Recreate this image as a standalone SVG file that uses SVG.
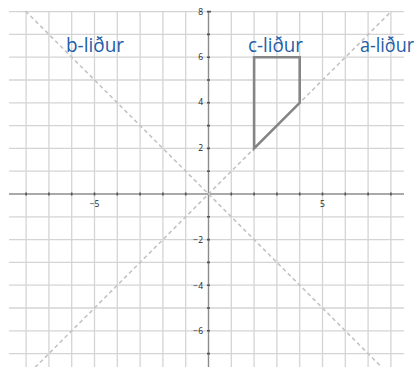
<svg xmlns="http://www.w3.org/2000/svg" width="419" height="367" viewBox="0 0 419 367">
<style>
.grid line{stroke:#d4d4d4;stroke-width:1.3}
.axis{stroke:#8c8c8c;stroke-width:1.4}
.tick{stroke:#555;stroke-width:1.6}
.num{font-family:"Open Sans","DejaVu Sans",sans-serif;font-size:8.5px;fill:#222}
.lbl{font-family:"Open Sans","Noto Sans",sans-serif;font-size:20px;fill:#1f5ea8}
.dash{stroke:#c4c4c4;stroke-width:1.6;stroke-dasharray:4 3;fill:none}
</style>
<rect width="419" height="367" fill="#fff"/>
<g id="grid" class="grid">
<line x1="26.1" y1="11" x2="26.1" y2="367"/>
<line x1="48.9" y1="11" x2="48.9" y2="367"/>
<line x1="71.7" y1="11" x2="71.7" y2="367"/>
<line x1="94.5" y1="11" x2="94.5" y2="367"/>
<line x1="117.3" y1="11" x2="117.3" y2="367"/>
<line x1="140.1" y1="11" x2="140.1" y2="367"/>
<line x1="162.9" y1="11" x2="162.9" y2="367"/>
<line x1="185.7" y1="11" x2="185.7" y2="367"/>
<line x1="231.3" y1="11" x2="231.3" y2="367"/>
<line x1="254.1" y1="11" x2="254.1" y2="367"/>
<line x1="276.9" y1="11" x2="276.9" y2="367"/>
<line x1="299.7" y1="11" x2="299.7" y2="367"/>
<line x1="322.5" y1="11" x2="322.5" y2="367"/>
<line x1="345.3" y1="11" x2="345.3" y2="367"/>
<line x1="368.1" y1="11" x2="368.1" y2="367"/>
<line x1="390.9" y1="11" x2="390.9" y2="367"/>
<line x1="9" y1="11.6" x2="404" y2="11.6"/>
<line x1="9" y1="34.4" x2="404" y2="34.4"/>
<line x1="9" y1="57.2" x2="404" y2="57.2"/>
<line x1="9" y1="80" x2="404" y2="80"/>
<line x1="9" y1="102.8" x2="404" y2="102.8"/>
<line x1="9" y1="125.6" x2="404" y2="125.6"/>
<line x1="9" y1="148.4" x2="404" y2="148.4"/>
<line x1="9" y1="171.2" x2="404" y2="171.2"/>
<line x1="9" y1="216.8" x2="404" y2="216.8"/>
<line x1="9" y1="239.6" x2="404" y2="239.6"/>
<line x1="9" y1="262.4" x2="404" y2="262.4"/>
<line x1="9" y1="285.2" x2="404" y2="285.2"/>
<line x1="9" y1="308" x2="404" y2="308"/>
<line x1="9" y1="330.8" x2="404" y2="330.8"/>
<line x1="9" y1="353.6" x2="404" y2="353.6"/>
</g>
<g id="axes">
<line class="axis" x1="9" y1="194" x2="404" y2="194"/>
<line class="axis" x1="208.5" y1="11" x2="208.5" y2="367"/>
<path class="tick" d="M26.1 192.5v3M48.9 192.5v3M71.7 192.5v3M94.5 192.5v3M117.3 192.5v3M140.1 192.5v3M162.9 192.5v3M185.7 192.5v3M231.3 192.5v3M254.1 192.5v3M276.9 192.5v3M299.7 192.5v3M322.5 192.5v3M345.3 192.5v3M368.1 192.5v3M390.9 192.5v3"/>
<path class="tick" d="M207 11.6h4M207 34.4h3M207 57.2h3M207 80h3M207 102.8h3M207 125.6h3M207 148.4h3M207 171.2h3M207 216.8h3M207 239.6h3M207 262.4h3M207 285.2h3M207 308h3M207 330.8h3M207 353.6h3"/>
<text class="num" x="94.5" y="207" text-anchor="middle">−5</text>
<text class="num" x="322.5" y="207" text-anchor="middle">5</text>
<g text-anchor="end">
<text class="num" x="203" y="14.5">8</text>
<text class="num" x="203" y="59.5">6</text>
<text class="num" x="203" y="104.5">4</text>
<text class="num" x="203" y="150.5">2</text>
<text class="num" x="203" y="242.5">−2</text>
<text class="num" x="203" y="289">−4</text>
<text class="num" x="203" y="334">−6</text>
</g>
</g>
<g id="connectors">
<line id="line-a" class="dash" x1="35" y1="367.5" x2="391.6" y2="11"/>
<line id="line-b" class="dash" x1="25.5" y1="11" x2="382" y2="367.5"/>
</g>
<g id="shape-c">
<polygon points="254.1,148.4 254.1,57.2 299.7,57.2 299.7,102.8" fill="none" stroke="#858585" stroke-width="2.6" stroke-linejoin="miter"/>
</g>
<g id="label-b"><text class="lbl" x="66" y="52" textLength="58" lengthAdjust="spacingAndGlyphs">b-liður</text></g>
<g id="label-c"><text class="lbl" x="248" y="52" textLength="55" lengthAdjust="spacingAndGlyphs">c-liður</text></g>
<g id="label-a"><text class="lbl" x="360" y="52" textLength="54" lengthAdjust="spacingAndGlyphs">a-liður</text></g>
</svg>
